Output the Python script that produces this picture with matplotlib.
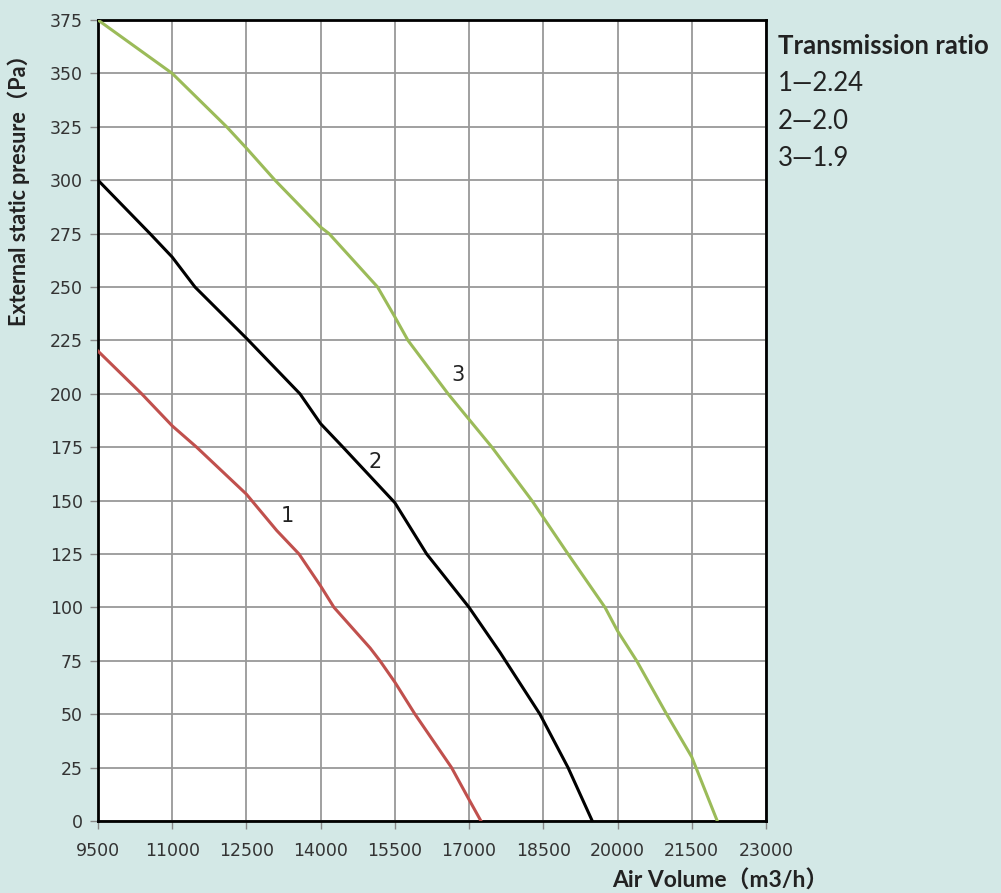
import matplotlib.pyplot as plt
import numpy as np

# curve 1 - ratio 2.24
x1 = [9500, 10383, 11000, 11494, 12500, 13112, 13563, 14000, 14270, 15000, 15199, 15500, 15907, 16646, 17000, 17240]
y1 = [220, 200, 185, 175, 153, 136, 125, 110, 100, 81, 75, 65, 50, 25, 10, 0]

# curve 2 - ratio 2.0
x2 = [9500, 10551, 11000, 11460, 12500, 13582, 14000, 14452, 15500, 16143, 17000, 17624, 18432, 19000, 19490]
y2 = [300, 275, 264, 250, 226, 200, 186, 175, 149, 125, 100, 79, 50, 25, 0]

# curve 3 - ratio 1.9
x3 = [9500, 11000, 12100, 12500, 13077, 14000, 14170, 15150, 15500, 15765, 16575, 17000, 17462, 18270, 19000, 19747, 20000, 20387, 20993, 21500, 21586, 22016]
y3 = [375, 350, 325, 315, 300, 278, 275, 250, 236, 225, 200, 188, 175, 150, 125, 100, 89, 75, 50, 30, 25, 0]

xticks = np.arange(9500, 23001, 1500)
yticks = np.arange(0, 376, 25)

curve_labels = ['1', '2', '3']
label_pos = [(13320, 143), (15098, 168), (16775, 209)]
legend_title = 'Transmission ratio'
legend_rows = ['1—2.24', '2—2.0', '3—1.9']

bg = '#d3e8e6'
fig = plt.figure(figsize=(10.01, 8.93), dpi=100, facecolor=bg)
ax = fig.add_axes([0.0979, 0.0806, 0.6673, 0.897])
ax.set_facecolor('white')

ax.plot(x1, y1, color='#c0504d', lw=2.2, zorder=3)
ax.plot(x2, y2, color='black', lw=2.2, zorder=3)
ax.plot(x3, y3, color='#9bbb59', lw=2.2, zorder=3)

for t, (px, py) in zip(curve_labels, label_pos):
    ax.text(px, py, t, fontsize=15, color='#222222', ha='center', va='center', zorder=4)

ax.set_xlim(9500, 23000)
ax.set_ylim(0, 375)
ax.set_xticks(xticks)
ax.set_yticks(yticks)
ax.grid(True, color='#999999', lw=1.3)
ax.set_axisbelow(True)
for s in ax.spines.values():
    s.set_color('black')
    s.set_linewidth(2)
ax.tick_params(direction='out', length=6, color='#888888', width=1,
               labelsize=12.5, labelcolor='#333333', pad=5)
ax.tick_params(axis='x', pad=9)

lab_font = ['Lato', 'Noto Sans CJK SC', 'DejaVu Sans']
fig.text(0.019, 0.793, 'External static presure（Pa）', rotation=90, fontsize=15.5,
         fontweight='bold', family=lab_font, color='#222222', ha='center', va='center')
fig.text(0.72, 0.014, 'Air Volume（m3/h）', fontsize=16.5, fontweight='bold',
         family=lab_font, color='#222222', ha='center', va='center')

fig.text(0.777, 0.949, legend_title, fontsize=18.5, fontweight='bold',
         family=lab_font, color='#222222', va='center')
for i, row in enumerate(legend_rows):
    fig.text(0.777, 0.907 - i * 0.0425, row, fontsize=18.5, family=lab_font,
             color='#222222', va='center')

fig.savefig('out.png', dpi=100, facecolor=bg)
